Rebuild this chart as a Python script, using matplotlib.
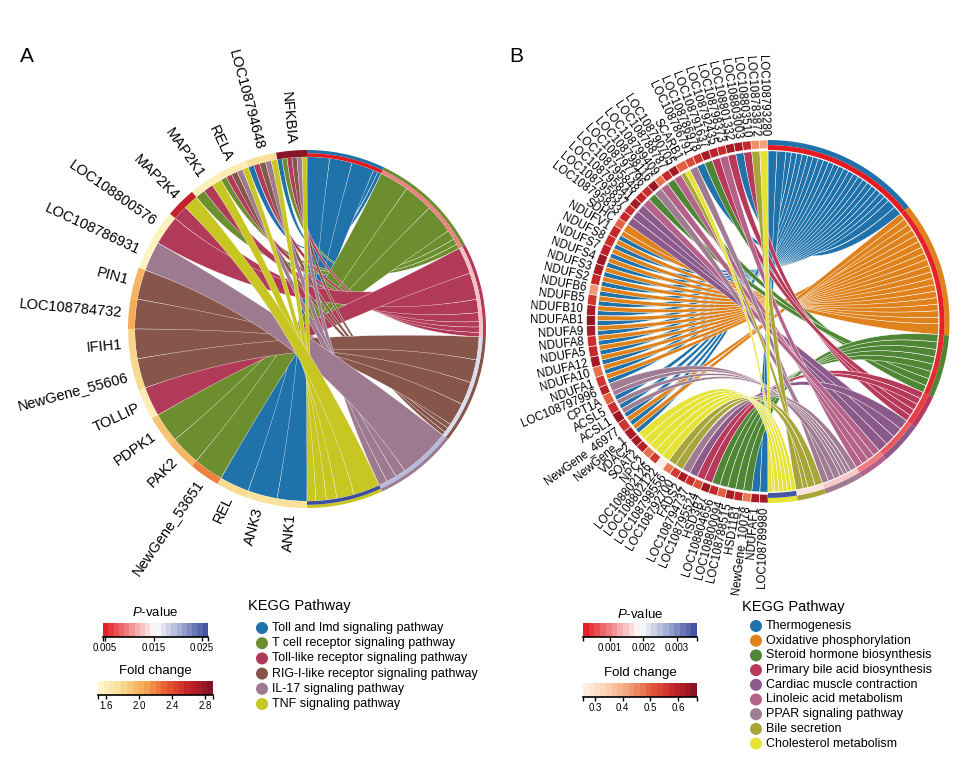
import numpy as np
import matplotlib
matplotlib.use('Agg')
from matplotlib import pyplot as plt
from matplotlib.patches import Polygon
from matplotlib.colors import LinearSegmentedColormap, Normalize

plt.rcParams['font.family'] = ['Liberation Sans', 'DejaVu Sans']
plt.rcParams['mathtext.fontset'] = 'custom'
plt.rcParams['mathtext.rm'] = 'Liberation Sans'
plt.rcParams['mathtext.it'] = 'Liberation Sans:italic'

# ---------------- panel A data ----------------
paths_a = ['Toll and Imd signaling pathway', 'T cell receptor signaling pathway',
           'Toll-like receptor signaling pathway', 'RIG-I-like receptor signaling pathway',
           'IL-17 signaling pathway', 'TNF signaling pathway']
pcol_a = ['#1f72aa', '#6d8e2f', '#b13a58', '#87564a', '#9e7a90', '#c8c622']
pval_a = [0.0048, 0.0095, 0.0125, 0.0175, 0.0195, 0.0262]

genes_a = ['NFKBIA', 'LOC108794648', 'RELA', 'MAP2K1', 'MAP2K4', 'LOC108800576',
           'LOC108786931', 'PIN1', 'LOC108784732', 'IFIH1', 'NewGene_55606', 'TOLLIP',
           'PDPK1', 'PAK2', 'NewGene_53651', 'REL', 'ANK3', 'ANK1']
fc_a = [2.85, 1.75, 1.62, 1.6, 2.6, 1.58, 1.55, 2.0, 2.05, 1.82, 1.8, 1.62,
        1.92, 1.98, 2.2, 1.78, 1.72, 1.74]
member_a = [[0, 1, 2, 3, 4, 5], [0, 2, 3, 4, 5], [1, 2, 3, 4, 5], [1, 2, 5], [2, 5], [2],
            [4], [3], [3], [3], [3], [2], [1], [1], [1], [0], [0], [0]]

# ---------------- panel B data ----------------
paths_b = ['Thermogenesis', 'Oxidative phosphorylation', 'Steroid hormone biosynthesis',
           'Primary bile acid biosynthesis', 'Cardiac muscle contraction',
           'Linoleic acid metabolism', 'PPAR signaling pathway', 'Bile secretion',
           'Cholesterol metabolism']
pcol_b = ['#1f72aa', '#e0821c', '#4e8636', '#b83a5a', '#8b5a8a', '#b5628b', '#9f7c92',
          '#a8a63a', '#e6e337']
pval_b = [0.00025, 0.0003, 0.00035, 0.0005, 0.0007, 0.00095, 0.0015, 0.0017, 0.0035]

genes_b = ['LOC108793280', 'LOC108783872', 'LOC108803510', 'LOC108803003', 'LOC108801332',
           'LOC108798373', 'LOC108792435', 'LOC108791637', 'LOC108786978', 'LOC108786791',
           'SCARB1', 'LOC108790705', 'LOC108788787', 'LOC108799409', 'LOC108798116',
           'LOC108797796', 'LOC108795848', 'LOC108795841', 'LOC108795837', 'LOC108795833',
           'SDHC', 'NDUFV1', 'NDUFS8', 'NDUFS7', 'NDUFS4', 'NDUFS3', 'NDUFS2', 'NDUFB6',
           'NDUFB5', 'NDUFB10', 'NDUFAB1', 'NDUFA9', 'NDUFA8', 'NDUFA5', 'NDUFA12', 'NDUFA10',
           'NDUFA1', 'LOC108797996', 'CPT1A', 'ACSL5', 'ACSL1', 'NewGene_46977', 'NewGene_1',
           'VDAC2', 'SOAT2', 'NPC2', 'LOC108802126', 'LOC108802122', 'LOC108798556',
           'LOC108792700', 'FADS2', 'LOC108794737', 'LOC108795524', 'HSD3B7', 'LOC108804656',
           'LOC108800094', 'LOC108788515', 'HSD11B1', 'NewGene_10078', 'NDUFAF1',
           'LOC108789980']
fc_b = [0.42, 0.44, 0.58, 0.62, 0.63, 0.57, 0.59, 0.62, 0.56, 0.53,
        0.5, 0.63, 0.58, 0.48, 0.64, 0.57, 0.59, 0.63, 0.57, 0.58,
        0.5, 0.58, 0.57, 0.59, 0.64, 0.62, 0.58, 0.43, 0.56, 0.62,
        0.65, 0.62, 0.57, 0.58, 0.63, 0.48, 0.56, 0.6, 0.5, 0.57,
        0.64, 0.56, 0.62, 0.63, 0.6, 0.48, 0.55, 0.27, 0.47, 0.55,
        0.62, 0.57, 0.52, 0.64, 0.58, 0.5, 0.62, 0.59, 0.47, 0.62, 0.63]
member_b = ([[8], [7], [3], [0], [3], [5], [3], [2], [0], [6], [7, 8], [5], [2], [5], [6],
             [2], [5], [4], [4], [4], [1]]
            + [[0, 1]] * 16
            + [[6], [0, 6], [0, 6], [0, 6], [0, 1], [0, 1]]
            + [[8]] * 5 + [[7], [7], [6], [4], [3], [3]] + [[2]] * 5 + [[0], [0]])

# ---------------- colour scales ----------------
p_cmap = LinearSegmentedColormap.from_list('pv', ['#e3151b', '#ffffff', '#3a4d9f'])
fc_cmap_a = LinearSegmentedColormap.from_list(
    'fca', ['#fdf9cc', '#f9dc92', '#f5a955', '#e8592e', '#c3202b', '#7a1426'])
fc_cmap_b = LinearSegmentedColormap.from_list(
    'fcb', ['#fdf2ea', '#fbd2b4', '#f49f7a', '#e15c3d', '#c3232a', '#841320'])
p_rng_a, fc_rng_a = (0.0046, 0.0262), (1.5, 2.9)
p_rng_b, fc_rng_b = (0.0002, 0.0036), (0.256, 0.669)

# layout: sector sizes of the pathways (degrees, clockwise from top)
span_a = [25.5, 36.6, 30.5, 35.4, 27.2, 24.8]
span_b = [50.9, 43.5, 20.2, 11.0, 13.7, 9.5, 12.6, 9.2, 9.4]

W, H = 976, 764
fig = plt.figure(figsize=(W / 100, H / 100), dpi=100)
ax = fig.add_axes([0, 0, 1, 1])
ax.set_xlim(0, W)
ax.set_ylim(H, 0)
ax.axis('off')


def pt(cx, cy, r, t):
    t = np.radians(np.atleast_1d(t))
    return np.column_stack([cx + r * np.sin(t), cy - r * np.cos(t)])


def arc(cx, cy, r, t1, t2):
    n = max(int(abs(t2 - t1) * 4) + 2, 3)
    return pt(cx, cy, r, np.linspace(t1, t2, n))


def bez(p0, p2, c, n=50):
    s = np.linspace(0, 1, n)[:, None]
    return (1 - s) ** 2 * p0 + 2 * (1 - s) * s * c + s ** 2 * p2


def band(cx, cy, r1, r2, t1, t2, color, **kw):
    xy = np.vstack([arc(cx, cy, r2, t1, t2), arc(cx, cy, r1, t2, t1)])
    ax.add_patch(Polygon(xy, closed=True, facecolor=color, **kw))


def chord(cx, cy, R, genes, members, fc, fc_cmap, fc_rng, pcols, pvals, p_rng, spans,
          gene_pad, g_in, p_mid, p_in, r_rib, rib_lw, ring_lw, fs, lab_r):
    fcn = Normalize(*fc_rng)
    pn = Normalize(*p_rng)
    C = np.array([[cx, cy]])
    if gene_pad is None:
        wts = np.ones(len(genes))
    else:
        wts = np.array([len(m) + gene_pad for m in members], float)
    wts = wts / wts.sum() * 180
    cum = np.concatenate([[0], np.cumsum(wts)])
    spans = np.array(spans) / np.sum(spans) * 180
    pst = np.concatenate([[0], np.cumsum(spans)])

    # gene side intervals (clockwise), pathways ascending going clockwise
    links = []
    for i, m in enumerate(members):
        g0 = 360 - cum[i + 1]
        w = wts[i] / len(m)
        for k, p in enumerate(sorted(m)):
            links.append([i, p, g0 + k * w, g0 + (k + 1) * w])
    # pathway side intervals, genes in clockwise circle order (last gene first)
    for p in range(len(pcols)):
        lk = [l for l in links if l[1] == p]
        lk.sort(key=lambda l: -l[0])
        tot = sum(l[3] - l[2] for l in lk)
        b = pst[p]
        for l in lk:
            w = (l[3] - l[2]) * spans[p] / tot
            l.extend([b, b + w])
            b += w

    for p in range(len(pcols)):
        for i, pp, g1, g2, b1, b2 in links:
            if pp != p:
                continue
            xy = np.vstack([arc(cx, cy, r_rib, g1, g2),
                            bez(pt(cx, cy, r_rib, g2), pt(cx, cy, r_rib, b1), C),
                            arc(cx, cy, r_rib, b1, b2),
                            bez(pt(cx, cy, r_rib, b2), pt(cx, cy, r_rib, g1), C)])
            ax.add_patch(Polygon(xy, closed=True, facecolor=pcols[p], edgecolor='white',
                                 lw=rib_lw, zorder=2))

    for i in range(len(genes)):
        t1, t2 = 360 - cum[i + 1], 360 - cum[i]
        band(cx, cy, g_in, R, t1, t2, fc_cmap(fcn(fc[i])), edgecolor='white',
             lw=ring_lw, zorder=3)
        t = (t1 + t2) / 2
        x, y = pt(cx, cy, R * lab_r, t)[0]
        rot = np.degrees(np.arctan2(-np.cos(np.radians(t)), -np.sin(np.radians(t))))
        ax.text(x, y, genes[i], rotation=rot, rotation_mode='anchor', ha='right',
                va='center', fontsize=fs)
    for p in range(len(pcols)):
        band(cx, cy, p_mid, R, pst[p], pst[p + 1], pcols[p], lw=0, zorder=3)
        band(cx, cy, p_in, p_mid, pst[p], pst[p + 1], p_cmap(pn(pvals[p])), lw=0, zorder=3)


chord(307, 329, 179, genes_a, member_a, fc_a, fc_cmap_a, fc_rng_a, pcol_a, pval_a, p_rng_a,
      span_a, None, 179 * 0.962, 179 * 0.982, 179 * 0.962, 179 * 0.962, 0.25, 0, 10.5, 1.035)
chord(768, 321.5, 181.5, genes_b, member_b, fc_b, fc_cmap_b, fc_rng_b, pcol_b, pval_b, p_rng_b,
      span_b, 3.5, 181.5 * 0.952, 181.5 * 0.972, 181.5 * 0.945, 181.5 * 0.94, 0.35, 0.4,
      8.3, 1.02)

ax.text(20, 57, 'A', fontsize=15, va='center', ha='left')
ax.text(509, 57, 'B', fontsize=15, va='center', ha='left')


def cbar(x, y, w, h, cmap, rng, ticks, title, ty):
    cax = fig.add_axes([x / W, 1 - (y + h) / H, w / W, h / H])
    edges = np.linspace(rng[0], rng[1], 21)
    mids = (edges[:-1] + edges[1:]) / 2
    cax.pcolormesh(edges, [0, 1], mids[None, :], cmap=cmap, vmin=rng[0], vmax=rng[1],
                   shading='flat')
    cax.set_xlim(*rng)
    cax.set_ylim(0, 1)
    cax.set_yticks([])
    for s in ['top', 'left', 'right']:
        cax.spines[s].set_visible(False)
    cax.spines['bottom'].set_linewidth(1.2)
    cax.set_xticks(ticks)
    cax.set_xticklabels([str(t) for t in ticks], fontsize=7)
    cax.set_xticks(rng, minor=True)
    cax.tick_params(axis='x', which='both', direction='out', length=3, width=1, pad=1.5)
    ax.text(x + w / 2, ty, title, fontsize=9.5, ha='center', va='center')


cbar(103, 623, 105, 14, p_cmap, p_rng_a, [0.005, 0.015, 0.025], '$P$-value', 613)
cbar(98, 681, 115, 14, fc_cmap_a, fc_rng_a, [1.6, 2.0, 2.4, 2.8], 'Fold change', 671)
cbar(583, 623, 114, 14, p_cmap, p_rng_b, [0.001, 0.002, 0.003], '$P$-value', 614)
cbar(583, 683, 114, 14, fc_cmap_b, fc_rng_b, [0.3, 0.4, 0.5, 0.6], 'Fold change', 673)


def legend(x, y0, dy, names, cols, ty):
    ax.text(x - 14, ty, 'KEGG Pathway', fontsize=10.5, va='center', ha='left')
    ys = y0 + dy * np.arange(len(names))
    ax.scatter(np.full(len(names), x), ys, s=75, c=cols, edgecolors='none')
    for yy, nm in zip(ys, names):
        ax.text(x + 10, yy, nm, fontsize=9, va='center', ha='left')


legend(262, 628, 15.2, paths_a, pcol_a, 606)
legend(756, 626, 14.7, paths_b, pcol_b, 607)

fig.savefig('out.png', dpi=100)
